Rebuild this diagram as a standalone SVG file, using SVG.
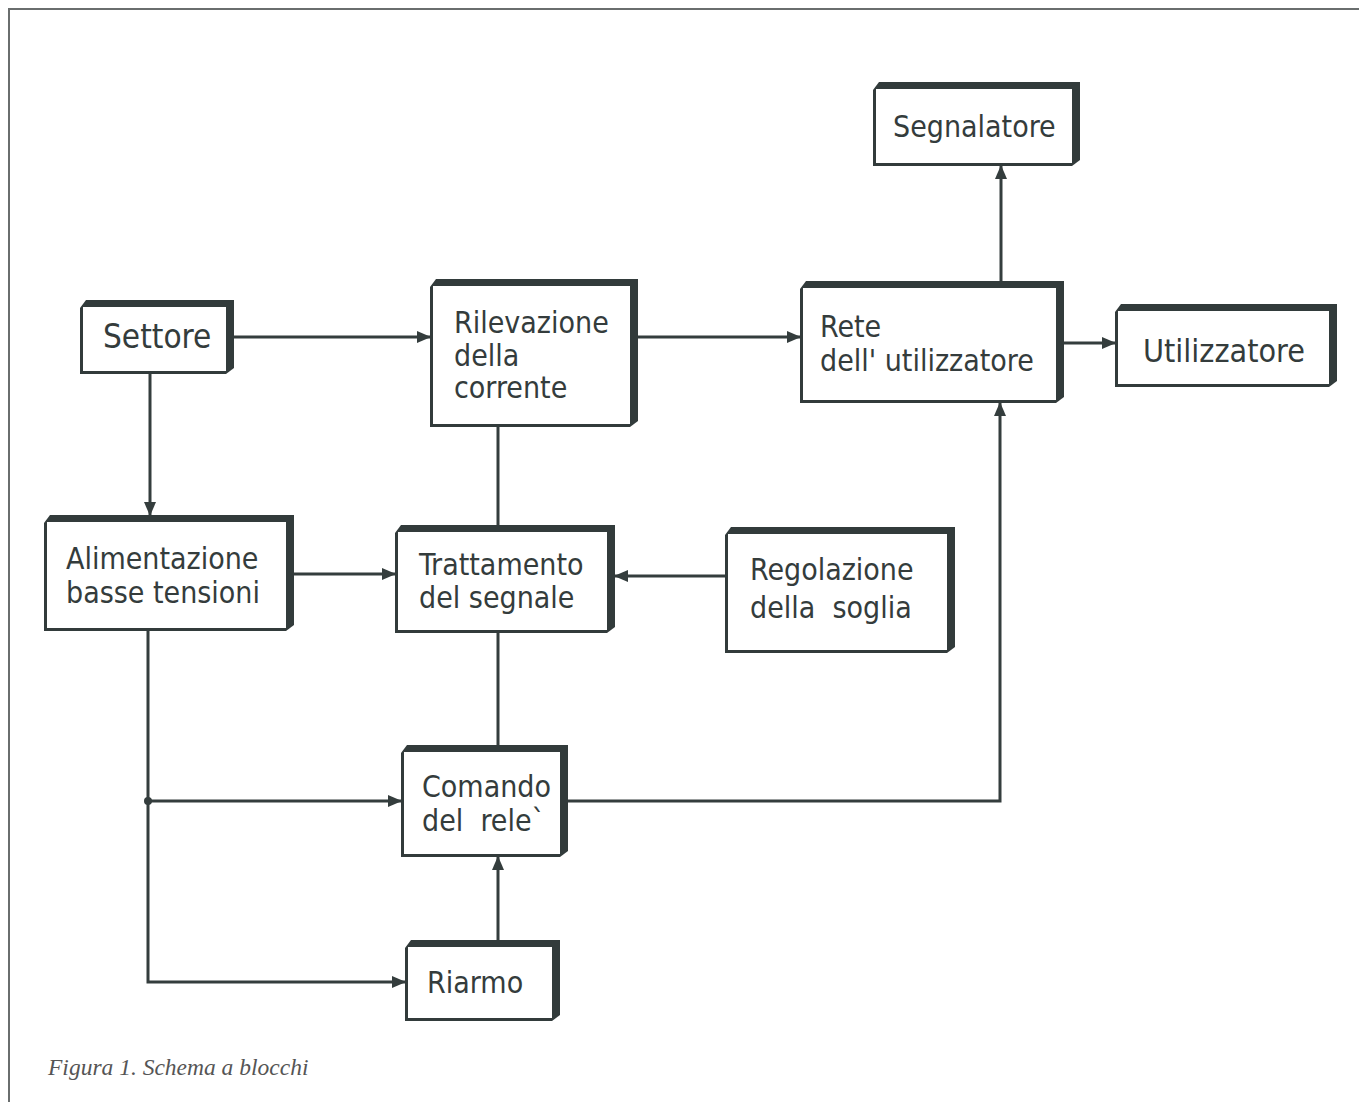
<svg xmlns="http://www.w3.org/2000/svg" width="1359" height="1102" viewBox="0 0 1359 1102">
<style>
.bo{fill:#323b3b}
.bi{fill:#ffffff}
.t{font-family:"DejaVu Sans Condensed","DejaVu Sans",sans-serif;font-stretch:condensed;font-size:30px;fill:#343c3c}
.c{fill:none;stroke:#343d3d;stroke-width:3}
.cap{font-family:"Liberation Serif",serif;font-style:italic;font-size:23.5px;fill:#555}
</style>
<defs>
<marker id="ar" markerUnits="userSpaceOnUse" markerWidth="14" markerHeight="12" refX="13" refY="6" orient="auto">
<path d="M0,0 L14,6 L0,12 Z" fill="#343d3d"/>
</marker>
</defs>
<rect width="1359" height="1102" fill="#fff"/>
<path d="M9,1102 V9 H1359" fill="none" stroke="#6a6e6e" stroke-width="2"/>

<g id="connectors">
<path class="c" d="M234,337 H430" marker-end="url(#ar)"/>
<path class="c" d="M638,337 H800" marker-end="url(#ar)"/>
<path class="c" d="M1001,281 V166" marker-end="url(#ar)"/>
<path class="c" d="M1064,343 H1115" marker-end="url(#ar)"/>
<path class="c" d="M150,374 V515" marker-end="url(#ar)"/>
<path class="c" d="M498,427 V525"/>
<path class="c" d="M294,574 H395" marker-end="url(#ar)"/>
<path class="c" d="M725,576 H615" marker-end="url(#ar)"/>
<path class="c" d="M498,633 V745"/>
<path class="c" d="M148,631 V982 H405" marker-end="url(#ar)"/>
<path class="c" d="M148,801 H401" marker-end="url(#ar)"/>
<path class="c" d="M498,940 V857" marker-end="url(#ar)"/>
<path class="c" d="M568,801 H1000 V403" marker-end="url(#ar)"/>
<circle cx="148" cy="801" r="4" fill="#343d3d"/>
</g>

<g id="settore">
<path class="bo" d="M86,300 H234 V368 L226,374 H80 V308 Z"/>
<rect class="bi" x="83" y="307" width="143" height="64"/>
<text class="t" x="103" y="348" style="font-size:33px">Settore</text>
</g>
<g id="rilevazione">
<path class="bo" d="M436,279 H638 V421 L630,427 H430 V287 Z"/>
<rect class="bi" x="433" y="286" width="197" height="138"/>
<text class="t" x="454" y="333">Rilevazione</text>
<text class="t" x="454" y="366">della</text>
<text class="t" x="454" y="398">corrente</text>
</g>
<g id="rete">
<path class="bo" d="M806,281 H1064 V397 L1056,403 H800 V289 Z"/>
<rect class="bi" x="803" y="288" width="253" height="112"/>
<text class="t" x="820" y="337">Rete</text>
<text class="t" x="820" y="371">dell' utilizzatore</text>
</g>
<g id="segnalatore">
<path class="bo" d="M879,82 H1080 V160 L1072,166 H873 V90 Z"/>
<rect class="bi" x="876" y="89" width="196" height="74"/>
<text class="t" x="893" y="137">Segnalatore</text>
</g>
<g id="utilizzatore">
<path class="bo" d="M1121,304 H1337 V381 L1329,387 H1115 V312 Z"/>
<rect class="bi" x="1118" y="311" width="211" height="73"/>
<text class="t" x="1143" y="362" style="font-size:32px">Utilizzatore</text>
</g>
<g id="alimentazione">
<path class="bo" d="M50,515 H294 V625 L286,631 H44 V523 Z"/>
<rect class="bi" x="47" y="522" width="239" height="106"/>
<text class="t" x="66" y="569">Alimentazione</text>
<text class="t" x="66" y="603">basse tensioni</text>
</g>
<g id="trattamento">
<path class="bo" d="M401,525 H615 V627 L607,633 H395 V533 Z"/>
<rect class="bi" x="398" y="532" width="209" height="98"/>
<text class="t" x="419" y="575">Trattamento</text>
<text class="t" x="419" y="608">del segnale</text>
</g>
<g id="regolazione">
<path class="bo" d="M731,527 H955 V647 L947,653 H725 V535 Z"/>
<rect class="bi" x="728" y="534" width="219" height="116"/>
<text class="t" x="750" y="580">Regolazione</text>
<text class="t" x="750" y="618" xml:space="preserve">della  soglia</text>
</g>
<g id="comando">
<path class="bo" d="M407,745 H568 V851 L560,857 H401 V753 Z"/>
<rect class="bi" x="404" y="752" width="156" height="102"/>
<text class="t" x="422" y="797">Comando</text>
<text class="t" x="422" y="831" xml:space="preserve">del  rele`</text>
</g>
<g id="riarmo">
<path class="bo" d="M411,940 H560 V1015 L552,1021 H405 V948 Z"/>
<rect class="bi" x="408" y="947" width="144" height="71"/>
<text class="t" x="427" y="993">Riarmo</text>
</g>

<text class="cap" x="48" y="1075">Figura 1. Schema a blocchi</text>
</svg>
